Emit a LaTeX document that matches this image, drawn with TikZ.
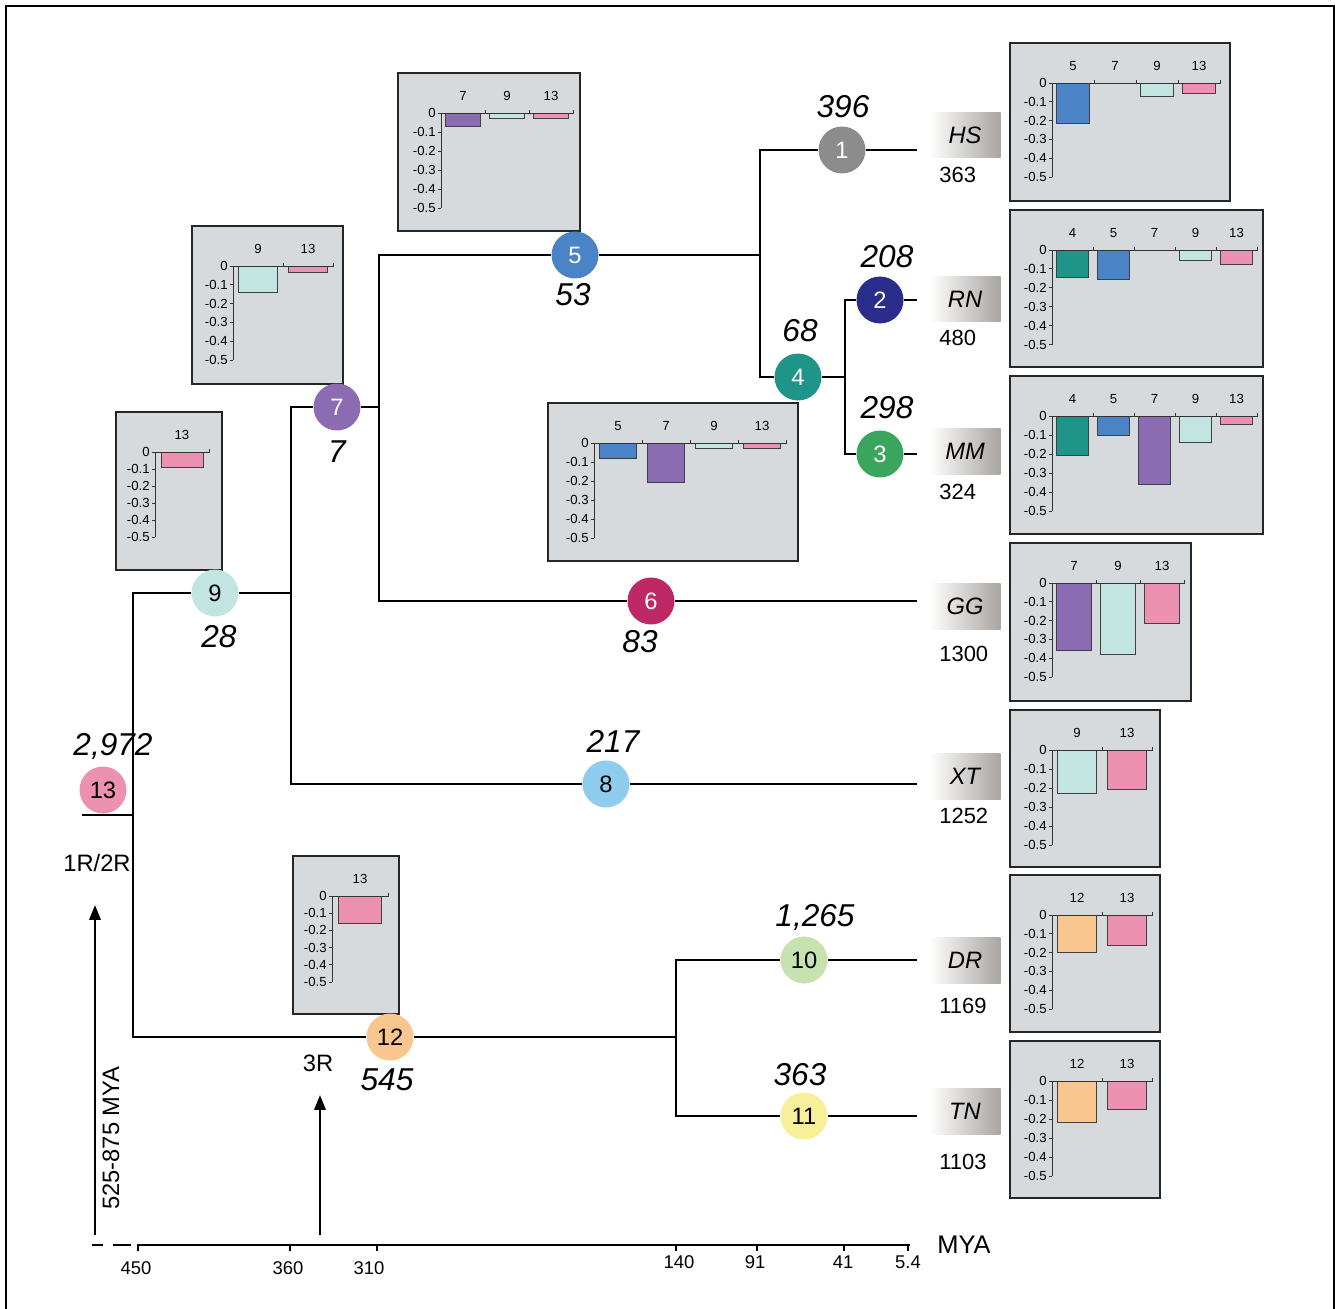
\documentclass[tikz,border=0pt]{standalone}
\usepackage{fontspec}
\setmainfont{Liberation Sans}
\usetikzlibrary{arrows.meta}

% node colours
\definecolor{c1}{RGB}{140,140,140}
\definecolor{c2}{RGB}{43,45,140}
\definecolor{c3}{RGB}{58,165,92}
\definecolor{c4}{RGB}{31,148,136}
\definecolor{c5}{RGB}{74,132,198}
\definecolor{c6}{RGB}{190,40,100}
\definecolor{c7}{RGB}{139,107,178}
\definecolor{c8}{RGB}{143,205,238}
\definecolor{c9}{RGB}{194,229,225}
\definecolor{c10}{RGB}{198,226,176}
\definecolor{c11}{RGB}{248,240,152}
\definecolor{c12}{RGB}{248,198,142}
\definecolor{c13}{RGB}{236,146,176}
\definecolor{chartgray}{RGB}{214,218,221}
\definecolor{spgray}{RGB}{168,164,160}

% one bar chart: #1,#2 top left; #3,#4 bottom right; #5 axis x;
% #6 column width; #7 pixels per 0.1; #8 label/value/colour list
\newcommand{\barchart}[8]{%
  \draw[chartbox] (#1,#2) rectangle (#3,#4);
  \pgfmathsetmacro{\zy}{#2+40}
  \foreach \k in {0,...,5}{
    \draw[chartline] (#5,{\zy+\k*#7}) -- ++(-3,0);
    \node[chartlbl, anchor=east] at (#5-5,{\zy+\k*#7}) {\ifnum\k=0 0\else -0.\k\fi};
  }
  \draw[chartline] (#5,\zy) -- (#5,{\zy+5*#7});
  \foreach \lab/\val/\col [count=\i] in {#8}{
    \pgfmathsetmacro{\cx}{#5+(\i-0.5)*#6}
    \pgfmathsetmacro{\bw}{0.39*#6}
    \ifdim\val pt>0pt
      \draw[barline, fill=\col] (\cx-\bw,\zy) rectangle (\cx+\bw,{\zy+\val*10*#7});
    \fi
    \draw[chartline] ({#5+(\i-1)*#6},\zy) -- ({#5+\i*#6},\zy) -- ++(0,-3);
    \node[chartlbl] at (\cx,\zy-17) {\lab};
  }
}

\begin{document}
\begin{tikzpicture}[x=0.02cm, y=-0.02cm,
    br/.style={line width=1.4pt},
    vln/.style={line width=1.4pt, line cap=rect},
    nd/.style={circle, inner sep=0pt, minimum size=0.94cm, font=\fontsize{13.5}{15}\selectfont},
    age/.style={inner sep=0pt, font=\fontsize{18}{20}\selectfont\itshape},
    sp/.style={rectangle, inner sep=0pt, minimum width=1.42cm, minimum height=0.92cm,
      left color=white, right color=spgray, font=\fontsize{13.5}{15}\selectfont\itshape},
    cnt/.style={anchor=west, inner sep=0pt, font=\fontsize{12.5}{14}\selectfont},
    chartbox/.style={draw=black!85, line width=0.6pt, fill=chartgray},
    chartline/.style={draw=black!80, line width=0.5pt},
    barline/.style={draw=black!75, line width=0.5pt},
    chartlbl/.style={inner sep=0pt, font=\fontsize{7.5}{9}\selectfont},
    axln/.style={line width=1.2pt},
    arr/.style={line width=1.2pt, -{Triangle[length=8.5pt, width=6.5pt]}},
    txt/.style={inner sep=0pt, font=\fontsize{13.5}{15}\selectfont}]
  \useasboundingbox (0,0) rectangle (1335,1308);
  \draw[line width=0.7pt] (6,1312) -- (6,6) -- (1334,6) -- (1334,1312);

  % bar charts next to the species
  \barchart{1010}{43}{1230}{201}{1052}{42}{18.8}{5/0.215/c5, 7/0/c7, 9/0.074/c9, 13/0.053/c13}
  \barchart{1010}{210}{1263}{367}{1052}{41}{18.9}{4/0.147/c4, 5/0.158/c5, 7/0/c7, 9/0.053/c9, 13/0.079/c13}
  \barchart{1010}{376}{1263}{534}{1052}{41}{19}{4/0.205/c4, 5/0.1/c5, 7/0.36/c7, 9/0.14/c9, 13/0.045/c13}
  \barchart{1010}{543}{1191}{701}{1052}{44}{18.8}{7/0.357/c7, 9/0.378/c9, 13/0.213/c13}
  \barchart{1010}{710}{1160}{867}{1052}{50}{19}{9/0.23/c9, 13/0.21/c13}
  \barchart{1010}{875}{1160}{1032}{1052}{50}{18.8}{12/0.2/c12, 13/0.16/c13}
  \barchart{1010}{1041}{1160}{1198}{1052}{50}{19}{12/0.22/c12, 13/0.15/c13}

  % bar charts on the inner branches
  \barchart{398}{73}{580}{231}{441}{44}{19}{7/0.07/c7, 9/0.03/c9, 13/0.03/c13}
  \barchart{548}{403}{798}{561}{594}{48}{19}{5/0.08/c5, 7/0.205/c7, 9/0.03/c9, 13/0.03/c13}
  \barchart{192}{226}{343}{384}{233}{50}{18.8}{9/0.14/c9, 13/0.035/c13}
  \barchart{116}{412}{222}{570}{155}{54}{17}{13/0.09/c13}
  \barchart{293}{856}{399}{1014}{332}{56}{17.2}{13/0.157/c13}

  % numbered nodes
  \node[nd, fill=c1, text=white] (n1) at (842,150) {1};
  \node[nd, fill=c2, text=white] (n2) at (880,300) {2};
  \node[nd, fill=c3, text=white] (n3) at (880,454) {3};
  \node[nd, fill=c4, text=white] (n4) at (798,377) {4};
  \node[nd, fill=c5, text=white] (n5) at (575,255) {5};
  \node[nd, fill=c6, text=white] (n6) at (651,601) {6};
  \node[nd, fill=c7, text=white] (n7) at (337,407) {7};
  \node[nd, fill=c8] (n8) at (606,784) {8};
  \node[nd, fill=c9] (n9) at (215,593) {9};
  \node[nd, fill=c10] (n10) at (804,960) {10};
  \node[nd, fill=c11] (n11) at (804,1116) {11};
  \node[nd, fill=c12] (n12) at (390,1037) {12};
  \node[nd, fill=c13] (n13) at (103,790) {13};

  % branch points and tips
  \coordinate (r13) at (82,815);
  \coordinate (k13) at (133,815);
  \coordinate (k9) at (133,593);
  \coordinate (k12) at (133,1037);
  \coordinate (k9e) at (291,593);
  \coordinate (k7) at (291,407);
  \coordinate (k8) at (291,784);
  \coordinate (k7e) at (379,407);
  \coordinate (k5) at (379,255);
  \coordinate (k6) at (379,601);
  \coordinate (k5e) at (760,255);
  \coordinate (k1) at (760,150);
  \coordinate (k4) at (760,377);
  \coordinate (k4e) at (845,377);
  \coordinate (k2) at (845,300);
  \coordinate (k3) at (845,454);
  \coordinate (k12e) at (676,1037);
  \coordinate (k10) at (676,960);
  \coordinate (k11) at (676,1116);
  \coordinate (t1) at (917,150);
  \coordinate (t2) at (917,300);
  \coordinate (t3) at (917,454);
  \coordinate (t6) at (917,601);
  \coordinate (t8) at (917,784);
  \coordinate (t10) at (917,960);
  \coordinate (t11) at (917,1116);

  % tree
  \draw[vln] (k9) -- (k12);
  \draw[vln] (k7) -- (k8);
  \draw[vln] (k5) -- (k6);
  \draw[vln] (k1) -- (k4);
  \draw[vln] (k2) -- (k3);
  \draw[vln] (k10) -- (k11);
  \draw[br] (r13) -- (k13);
  \draw[br] (k9) -- (n9) -- (k9e);
  \draw[br] (k7) -- (n7) -- (k7e);
  \draw[br] (k5) -- (n5) -- (k5e);
  \draw[br] (k1) -- (n1) -- (t1);
  \draw[br] (k4) -- (n4) -- (k4e);
  \draw[br] (k2) -- (n2) -- (t2);
  \draw[br] (k3) -- (n3) -- (t3);
  \draw[br] (k6) -- (n6) -- (t6);
  \draw[br] (k8) -- (n8) -- (t8);
  \draw[br] (k12) -- (n12) -- (k12e);
  \draw[br] (k10) -- (n10) -- (t10);
  \draw[br] (k11) -- (n11) -- (t11);

  % numbers on the branches
  \node[age] (a1) at (843,107) {396};
  \node[age] (a2) at (887,257) {208};
  \node[age] (a3) at (887,408) {298};
  \node[age] (a4) at (800,331) {68};
  \node[age] (a5) at (573,295) {53};
  \node[age] (a6) at (640,642) {83};
  \node[age] (a7) at (337,452) {7};
  \node[age] (a8) at (613,741) {217};
  \node[age] (a9) at (219,637) {28};
  \node[age] (a10) at (815,917) {1,265};
  \node[age] (a11) at (800,1075) {363};
  \node[age] (a12) at (387,1080) {545};
  \node[age] (a13) at (113,746) {2,972};

  % species
  \node[sp] (hs) at (965,135) {HS};
  \node[sp] (rn) at (965,299) {RN};
  \node[sp] (mm) at (965,451) {MM};
  \node[sp] (gg) at (965,606) {GG};
  \node[sp] (xt) at (965,776) {XT};
  \node[sp] (dr) at (965,960) {DR};
  \node[sp] (tn) at (965,1111) {TN};
  \node[cnt] (hsn) at (939,175) {363};
  \node[cnt] (rnn) at (939,338) {480};
  \node[cnt] (mmn) at (939,492) {324};
  \node[cnt] (ggn) at (939,654) {1300};
  \node[cnt] (xtn) at (939,816) {1252};
  \node[cnt] (drn) at (939,1006) {1169};
  \node[cnt] (tnn) at (939,1162) {1103};

  % duplications
  \node[txt] (dup12) at (97,863) {1R/2R};
  \node[txt] (dup3) at (318,1063) {3R};
  \node[txt, rotate=90] (dupage) at (111,1138) {525-875 MYA};
  \coordinate (s12) at (95,1235);
  \coordinate (e12) at (95,905);
  \coordinate (s3) at (320,1235);
  \coordinate (e3) at (320,1095);
  \draw[arr] (s12) -- (e12);
  \draw[arr] (s3) -- (e3);

  % time axis
  \coordinate (ax0) at (137,1245);
  \coordinate (ax1) at (910,1245);
  \draw[axln] (ax0) -- (ax1);
  \draw[axln] (92,1245) -- (103,1245) (113,1245) -- (131,1245);
  \foreach \tx/\lx/\ly/\tl in {138/136/1268/450, 290/288/1268/360, 377/369/1268/310,
      676/679/1262/140, 757/755/1262/91, 844/843/1262/41, 908/908/1262/5.4}{
    \draw[axln] (\tx,1245) -- ++(0,6);
    \node[inner sep=0pt, font=\fontsize{10.5}{12}\selectfont] at (\lx,\ly) {\tl};
  }
  \node[inner sep=0pt, font=\fontsize{14.5}{16}\selectfont] (mya) at (964,1245) {MYA};
\end{tikzpicture}
\end{document}
